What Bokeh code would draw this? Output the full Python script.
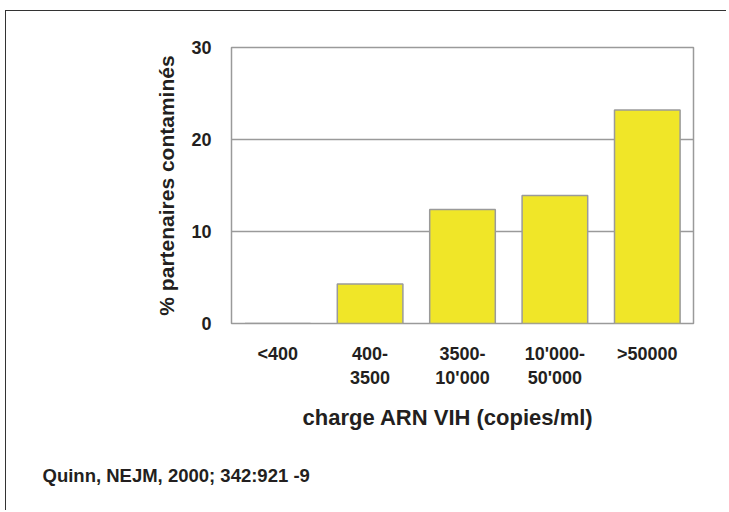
from bokeh.plotting import figure
from bokeh.models import FactorRange, Range1d, FixedTicker, Title
from bokeh.embed import file_html
from bokeh.resources import INLINE

# ---- data ----
categories = ["<400", "400-\n3500", "3500-\n10'000", "10'000-\n50'000", ">50000"]
values = [0.0, 4.3, 12.4, 13.9, 23.2]
y_ticks = [0, 10, 20, 30]
x_title = "charge ARN VIH (copies/ml)"
y_title = "% partenaires contaminés"
source_note = "Quinn, NEJM, 2000; 342:921 -9"

FONT = "Liberation Sans"
TXT = "#231f20"
GRAY = "#9a9a9a"

p = figure(
    width=721, height=500,
    x_range=FactorRange(*categories, range_padding=0),
    y_range=Range1d(0, 30),
    output_backend="svg", toolbar_location=None,
    min_border_left=225, min_border_right=34,
    min_border_top=36, min_border_bottom=188,
)
p.styles = {"margin-left": "4.5px", "margin-top": "9.5px",
            "border-top": "1.5px solid #333333",
            "border-left": "1.5px solid #333333"}

p.vbar(x=categories, top=values, bottom=0, width=0.71,
       fill_color="#f0e628", line_color=GRAY, line_width=1.5)

p.outline_line_color = GRAY
p.outline_line_width = 1.5
p.xgrid.grid_line_color = None
p.ygrid.grid_line_color = GRAY
p.ygrid.grid_line_width = 1.5

p.yaxis.ticker = FixedTicker(ticks=y_ticks)
for ax in (p.xaxis[0], p.yaxis[0]):
    ax.axis_line_color = None
    ax.major_tick_line_color = None
    ax.minor_tick_line_color = None
    ax.major_tick_in = 0
    ax.major_tick_out = 0
    ax.major_label_text_font = FONT
    ax.major_label_text_font_style = "bold"
    ax.major_label_text_font_size = "18px"
    ax.major_label_text_color = TXT
    ax.axis_label_text_font = FONT
    ax.axis_label_text_font_style = "bold"
    ax.axis_label_text_font_size = "21px"
    ax.axis_label_text_color = TXT

p.yaxis.major_label_standoff = 20
p.yaxis.axis_label = y_title
p.yaxis.axis_label_standoff = 10
p.xaxis.major_label_standoff = 20
p.xaxis.major_label_text_line_height = 1.2
p.xaxis.major_label_orientation = "horizontal"

# x-axis title (placed as a below-panel title so it sits where the original does)
x_lab = Title(text=x_title, align="left", offset=71, standoff=24,
              text_font=FONT, text_font_style="bold",
              text_font_size="22px", text_color=TXT)
p.add_layout(x_lab, "below")

note = Title(text=source_note, align="left", offset=-189, standoff=43,
             text_font=FONT, text_font_style="bold",
             text_font_size="18.5px", text_color=TXT)
p.add_layout(note, "below")

open("out.html", "w").write(file_html(p, INLINE))
